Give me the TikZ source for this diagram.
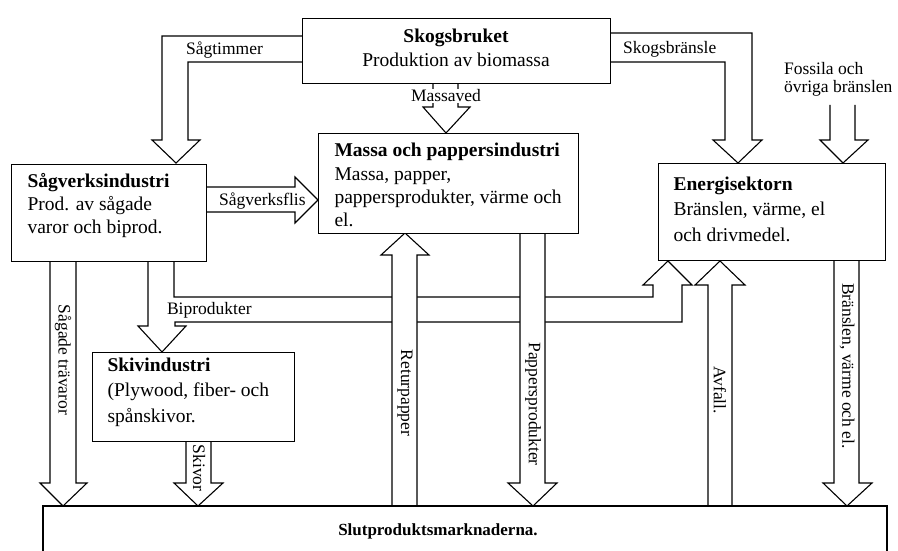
\documentclass[tikz,border=0pt]{standalone}
\usepackage{fontspec}
\setmainfont{Liberation Serif}
\begin{document}
\begin{tikzpicture}[x=1pt,y=-1pt, line width=1.1pt, line join=miter,
  box/.style={draw, fill=white, inner sep=0pt, anchor=north west},
  blk/.style={draw, fill=white},
  lbl/.style={inner sep=0.5pt, font=\fontsize{17.5}{20}\selectfont},
  lblr/.style={lbl, rotate=-90},
  btitle/.style={inner sep=0pt, anchor=base west, font=\fontsize{19.5}{22}\selectfont\bfseries},
  btext/.style={inner sep=0pt, anchor=base west, font=\fontsize{19.5}{22}\selectfont}]
\useasboundingbox (0,0) rectangle (898,551);

% ---- block arrows ----
% Sagtimmer
\draw[blk] (302,36) -- (162,36) -- (162,140) -- (152,140) -- (176,163) -- (200,140) -- (188,140) -- (188,62) -- (302,62);
% Skogsbransle
\draw[blk] (610,33) -- (752,33) -- (752,140) -- (762,140) -- (738,163) -- (713,140) -- (725,140) -- (725,62) -- (610,62);
% Fossila
\draw[blk] (830,105) -- (830,140) -- (820,140) -- (843,163) -- (868,140) -- (855,140) -- (855,105);
% Massaved
\draw[blk] (433,83) -- (433,107) -- (423,107) -- (446,133) -- (470,107) -- (458,107) -- (458,83);
% Sagverksflis
\draw[blk] (206,187) -- (295,187) -- (295,177) -- (318,200) -- (295,223) -- (295,212) -- (206,212);
% Sagade travaror
\draw[blk] (50,261) -- (50,483) -- (40,483) -- (63,506) -- (87,483) -- (76,483) -- (76,261);
% Biprodukter (band to Skivindustri and Energisektorn)
\draw[blk] (148,261) -- (148,326) -- (138,326) -- (162,352) -- (186,326) -- (175,326) -- (175,322)
  -- (682,322) -- (682,285) -- (692,285) -- (668,261) -- (643,285) -- (653,285) -- (653,297)
  -- (174,297) -- (174,261);
% Skivor
\draw[blk] (186,441) -- (186,483) -- (174,483) -- (198,506) -- (223,483) -- (211,483) -- (211,441);
% Returpapper
\draw[blk] (392,506) -- (392,255) -- (381,255) -- (405,233) -- (429,255) -- (417,255) -- (417,506);
% Pappersprodukter
\draw[blk] (520,233) -- (520,483) -- (508,483) -- (533,506) -- (557,483) -- (545,483) -- (545,233);
% Avfall
\draw[blk] (708,506) -- (708,285) -- (695,285) -- (720,261) -- (745,285) -- (732,285) -- (732,506);
% Branslen, varme och el
\draw[blk] (834,260) -- (834,483) -- (823,483) -- (847,506) -- (872,483) -- (859,483) -- (859,260);

% ---- boxes ----
\node[box, minimum width=308pt, minimum height=65pt] (skog) at (302,18) {};
\node[box, minimum width=260pt, minimum height=100pt] (massa) at (318,133) {};
\node[box, minimum width=195pt, minimum height=97pt] (sag) at (11,164) {};
\node[box, minimum width=227pt, minimum height=97pt] (energi) at (658,163) {};
\node[box, minimum width=202pt, minimum height=89pt] (skiv) at (92,352) {};
\draw (43,551) -- (43,506) -- (887,506) -- (887,551);
\coordinate (slut) at (465,506);

% ---- box texts ----
\node[btitle, anchor=base] (skogA) at (456,43) {Skogsbruket};
\node[btext, anchor=base] (skogB) at (456,67) {Produktion av biomassa};

\node[btitle] (massaA) at (334,157) {Massa och pappersindustri};
\node[btext] (massaB) at (334,180) {Massa, papper,};
\node[btext] (massaC) at (334,203) {pappersprodukter, värme och};
\node[btext] (massaD) at (334,226) {el.};

\node[btitle] (sagA) at (27,187) {Sågverksindustri};
\node[btext] (sagB) at (27,210) {Prod. av sågade};
\node[btext] (sagC) at (27,233) {varor och biprod.};

\node[btitle] (enA) at (673,190) {Energisektorn};
\node[btext] (enB) at (673,215) {Bränslen, värme, el};
\node[btext] (enC) at (673,241) {och drivmedel.};

\node[btitle] (skivA) at (107,371) {Skivindustri};
\node[btext] (skivB) at (107,396) {(Plywood, fiber- och};
\node[btext] (skivC) at (107,422) {spånskivor.};

\node[inner sep=0pt, anchor=base, font=\fontsize{17}{20}\selectfont\bfseries] (slutT) at (438,535) {Slutproduktsmarknaderna.};

% ---- arrow labels ----
\node[lbl, anchor=base west] (l1) at (185,55) {Sågtimmer};
\node[lbl, anchor=base west] (l2) at (622,54) {Skogsbränsle};
\node[lbl, anchor=base west] (l3) at (783,75) {Fossila och};
\node[lbl, anchor=base west] (l4) at (783,93) {övriga bränslen};
\node[lbl, fill=white] (l5) at (446,96) {Massaved};
\node[lbl, anchor=base west] (l6) at (218,205) {Sågverksflis};
\node[lbl, anchor=base west] (l7) at (166,314) {Biprodukter};
\node[lblr] (l8) at (63,360) {Sågade trävaror};
\node[lblr] (l9) at (199,468) {Skivor};
\node[lblr] (l10) at (405,393) {Returpapper};
\node[lblr] (l11) at (533,404) {Pappersprodukter};
\node[lblr] (l12) at (720,390) {Avfall.};
\node[lblr] (l13) at (847,366) {Bränslen, värme och el.};
\end{tikzpicture}
\end{document}
